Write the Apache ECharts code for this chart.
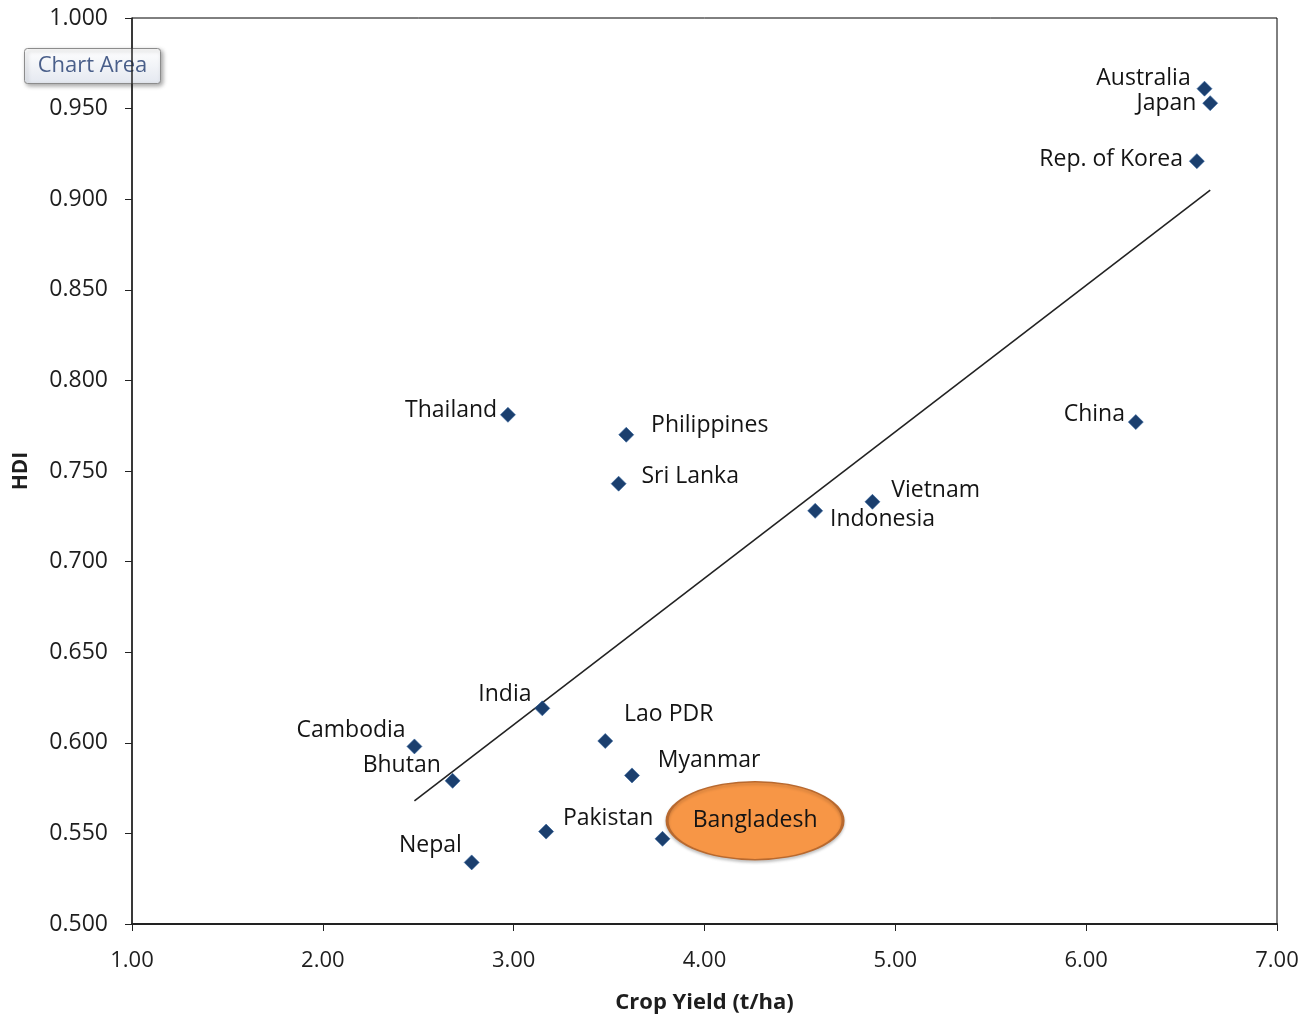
<!DOCTYPE html>
<html>
<head>
<meta charset="utf-8">
<script src="https://cdn.jsdelivr.net/npm/echarts@6/dist/echarts.min.js"></script>
<style>html,body{margin:0;padding:0;background:#fff;}#c{width:1304px;height:1014px;}</style>
</head>
<body>
<div id="c"></div>
<script>
// ---- data ----
const countries = ['Australia','Japan','Rep. of Korea','China','Thailand','Philippines','Sri Lanka','Indonesia','Vietnam','India','Cambodia','Bhutan','Lao PDR','Myanmar','Pakistan','Bangladesh','Nepal'];
const cropYield = [6.62, 6.65, 6.58, 6.26, 2.97, 3.59, 3.55, 4.58, 4.88, 3.15, 2.48, 2.68, 3.48, 3.62, 3.17, 3.78, 2.78];
const hdi =       [0.961, 0.953, 0.921, 0.777, 0.781, 0.770, 0.743, 0.728, 0.733, 0.619, 0.598, 0.579, 0.601, 0.582, 0.551, 0.547, 0.534];
const trendX = [2.48, 6.65];
const trendY = [0.568, 0.905];
const highlight = {name: 'Bangladesh', x: 4.265, y: 0.557};
const xTicks = ['1.00','2.00','3.00','4.00','5.00','6.00','7.00'];

// ---- label placement (style) ----
const labelPlace = {
  'Australia':   {position:'left',  offset:[0,-10]},
  'Japan':       {position:'left',  offset:[0,0]},
  'Rep. of Korea':{position:'left', offset:[0,-2]},
  'China':       {position:'left',  offset:[3,-8]},
  'Thailand':    {position:'left',  offset:[3,-4]},
  'Philippines': {position:'right', offset:[11,-9]},
  'Sri Lanka':   {position:'right', offset:[9,-7]},
  'Indonesia':   {position:'right', offset:[1,9]},
  'Vietnam':     {position:'right', offset:[5,-11]},
  'India':       {position:'left',  offset:[3,-14]},
  'Cambodia':    {position:'left',  offset:[5,-16]},
  'Bhutan':      {position:'left',  offset:[2,-15]},
  'Lao PDR':     {position:'right', offset:[5,-27]},
  'Myanmar':     {position:'right', offset:[12,-15]},
  'Pakistan':    {position:'right', offset:[3,-13]},
  'Bangladesh':  {show:false},
  'Nepal':       {position:'left',  offset:[4,-17]}
};

const FONT = '"Open Sans", "Noto Sans", sans-serif';
const pts = countries.map((n,i)=>{
  const lp = labelPlace[n] || {};
  return {name:n, value:[cropYield[i], hdi[i]], label:Object.assign({show:true, distance:6}, lp)};
});

const chart = echarts.init(document.getElementById('c'));
chart.setOption({
  animation:false,
  backgroundColor:'#fff',
  grid:{left:132, right:27, top:18, bottom:90, containLabel:false, outerBoundsMode:'none',
        show:true, borderColor:'#000', borderWidth:1, backgroundColor:'transparent'},
  xAxis:{
    type:'value', min:1, max:7, interval:1,
    name:'Crop Yield (t/ha)', nameLocation:'middle', nameGap:68,
    nameTextStyle:{fontFamily:FONT, fontSize:22, fontWeight:'bold', color:'#1e1e1e'},
    axisLine:{show:true, lineStyle:{color:'#222', width:2}},
    axisTick:{show:true, inside:false, length:7, lineStyle:{color:'#222'}},
    axisLabel:{fontFamily:FONT, fontSize:22, color:'#1e1e1e', margin:26,
      formatter:(v)=>xTicks[Math.round(v)-1]},
    splitLine:{show:false}
  },
  yAxis:{
    type:'value', min:0.5, max:1.0, interval:0.05,
    name:'HDI', nameLocation:'middle', nameGap:100, nameRotate:90,
    nameTextStyle:{fontFamily:FONT, fontSize:21, fontWeight:'bold', color:'#1e1e1e'},
    axisLine:{show:true, lineStyle:{color:'#222', width:1.5}},
    axisTick:{show:true, inside:false, length:7, lineStyle:{color:'#222'}},
    axisLabel:{fontFamily:FONT, fontSize:23, color:'#1e1e1e', margin:24,
      formatter:(v)=>v.toFixed(3)},
    splitLine:{show:false}
  },
  series:[
    {
      type:'line', data:trendX.map((x,i)=>[x,trendY[i]]),
      symbol:'none', lineStyle:{color:'#222', width:1.6}, z:2, silent:true
    },
    {
      type:'scatter', data:pts, symbol:'diamond', symbolSize:15,
      itemStyle:{color:'#1B3F6E', borderColor:'#2F5F9A', borderWidth:0.6, opacity:1},
      label:{fontFamily:FONT, fontSize:23, color:'#141414', formatter:'{b}'},
      z:3
    },
    {
      type:'scatter', data:[{name:highlight.name, value:[highlight.x, highlight.y]}],
      symbol:'circle', symbolSize:[176,78],
      itemStyle:{color:'#F79646', borderColor:'#B8692F', borderWidth:2, opacity:1,
        shadowColor:'rgba(0,0,0,0.2)', shadowBlur:3, shadowOffsetY:2},
      label:{show:true, position:'inside', formatter:'{b}', fontFamily:FONT, fontSize:23, color:'#141414'},
      z:4
    }
  ],
  graphic:[{
    type:'group', left:24, top:48, z:100,
    children:[
      {type:'rect', shape:{x:0,y:0,width:136,height:35,r:3},
       style:{fill:new echarts.graphic.LinearGradient(0,0,0,1,[{offset:0,color:'#ffffff'},{offset:1,color:'#e4e8f0'}]),
              stroke:'#8c8c8c', lineWidth:1, shadowColor:'rgba(0,0,0,0.35)', shadowBlur:4, shadowOffsetX:2, shadowOffsetY:2}},
      {type:'text', x:68, y:17.5,
       style:{text:'Chart Area', fontFamily:FONT, fontSize:22, fill:'#4a5f8a', align:'center', verticalAlign:'middle'}}
    ]
  }]
});
</script>
</body>
</html>
